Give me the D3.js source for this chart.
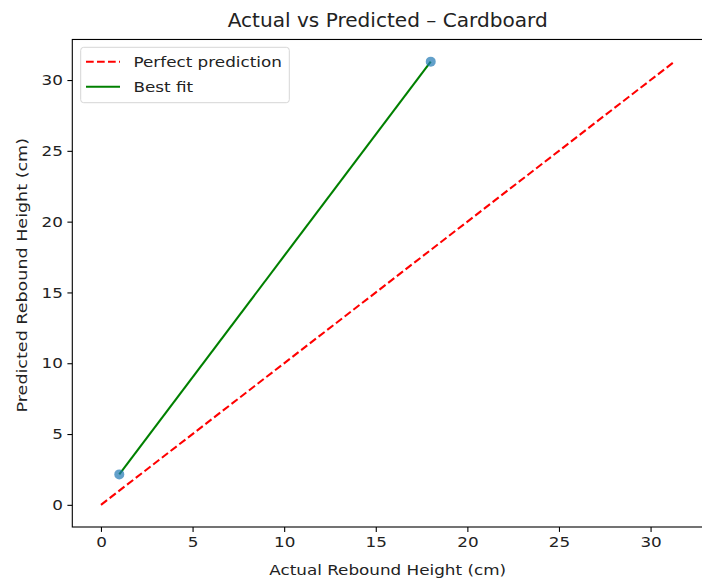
<!DOCTYPE html>
<html>
<head>
<meta charset="utf-8">
<script src="https://cdn.jsdelivr.net/npm/d3@7"></script>
<style>
  html, body { margin: 0; padding: 0; background: #fff; }
  svg { display: block; font-family: "DejaVu Sans", sans-serif; }
</style>
</head>
<body>
<svg id="chart" width="702" height="581"></svg>
<script>
const actual = [1, 18];
const predicted = [2.15, 31.3];
const xTicks = [0, 5, 10, 15, 20, 25, 30];
const yTicks = [0, 5, 10, 15, 20, 25, 30];
const titleText = "Actual vs Predicted \u2013 Cardboard";
const xLabelText = "Actual Rebound Height (cm)";
const yLabelText = "Predicted Rebound Height (cm)";
const legendLabels = ["Perfect prediction", "Best fit"];

(function () {
const svg = d3.select("#chart");
const maxVal = d3.max(actual.concat(predicted));
const pad = maxVal * 0.05;
const lo = -pad, hi = maxVal + pad;

const plotLeft = 72.3, plotBottom = 527;
const pxPerX = 18.32, pxPerY = 14.16;
const x = d3.scaleLinear().domain([lo, hi]).range([plotLeft, plotLeft + (hi - lo) * pxPerX]);
const y = d3.scaleLinear().domain([lo, hi]).range([plotBottom, plotBottom - (hi - lo) * pxPerY]);
const plotTop = y(hi), plotRight = x(hi);

const FS = 14.6, WIDEN = 1.15, TFS = 18.6, TWIDEN = 1.08;
function widen(sel, k) {
  sel.each(function () {
    const len = this.getComputedTextLength();
    d3.select(this).attr("textLength", len * k).attr("lengthAdjust", "spacingAndGlyphs");
  });
}

const xAxis = d3.axisBottom(x).tickValues(xTicks).tickSize(4.9).tickPadding(4.5).tickFormat(d3.format("d"));
const yAxis = d3.axisLeft(y).tickValues(yTicks).tickSize(4.9).tickPadding(4.5).tickFormat(d3.format("d"));

const gx = svg.append("g").attr("transform", `translate(0,${plotBottom})`).call(xAxis);
const gy = svg.append("g").attr("transform", `translate(${plotLeft},0)`).call(yAxis);
[gx, gy].forEach(g => {
  g.select(".domain").remove();
  g.selectAll("line").attr("stroke", "#000").attr("stroke-width", 1.1);
  g.selectAll("text").attr("font-size", FS).attr("fill", "#222").attr("font-family", "DejaVu Sans");
  widen(g.selectAll("text"), WIDEN);
});

svg.append("line")
  .attr("x1", x(0)).attr("y1", y(0))
  .attr("x2", x(maxVal)).attr("y2", y(maxVal))
  .attr("stroke", "red").attr("stroke-width", 2.08)
  .attr("stroke-dasharray", "7.7,3.3");

const mx = d3.mean(actual), my = d3.mean(predicted);
const slope = d3.sum(actual.map((v, i) => (v - mx) * (predicted[i] - my))) / d3.sum(actual.map(v => (v - mx) ** 2));
const intercept = my - slope * mx;
const x0 = d3.min(actual), x1 = d3.max(actual);
svg.append("line")
  .attr("x1", x(x0)).attr("y1", y(intercept + slope * x0))
  .attr("x2", x(x1)).attr("y2", y(intercept + slope * x1))
  .attr("stroke", "green").attr("stroke-width", 2.08);

svg.selectAll("circle.pt").data(actual).enter().append("circle")
  .attr("class", "pt")
  .attr("cx", d => x(d)).attr("cy", (d, i) => y(predicted[i]))
  .attr("r", 5).attr("fill", "#1f77b4").attr("fill-opacity", 0.7);

svg.append("rect").attr("x", plotLeft).attr("y", plotTop).attr("width", plotRight - plotLeft).attr("height", plotBottom - plotTop)
  .attr("fill", "none").attr("stroke", "#000").attr("stroke-width", 1.1);

const t = svg.append("text").attr("x", (plotLeft + plotRight) / 2).attr("y", 26.7).attr("text-anchor", "middle")
  .attr("font-size", TFS).attr("fill", "#222").text(titleText);
widen(t, TWIDEN);
const xl = svg.append("text").attr("x", (plotLeft + plotRight) / 2).attr("y", 575).attr("text-anchor", "middle")
  .attr("font-size", FS).attr("fill", "#222").text(xLabelText);
widen(xl, WIDEN);
const yl = svg.append("text").attr("transform", `translate(27,${(plotTop + plotBottom) / 2 - 8}) rotate(-90)`).attr("text-anchor", "middle")
  .attr("font-size", FS).attr("fill", "#222").text(yLabelText);
widen(yl, 1.2);

const lg = svg.append("g");
lg.append("rect").attr("x", 80.7).attr("y", 47.3).attr("width", 208.6).attr("height", 55.4).attr("rx", 3)
  .attr("fill", "#fff").attr("fill-opacity", 0.8).attr("stroke", "#d6d6d6").attr("stroke-width", 1);
const legendStyles = [{color: "red", dash: "7.7,3.3"}, {color: "green", dash: null}];
legendLabels.forEach((lab, i) => {
  const yy = 61.7 + i * 25;
  lg.append("line").attr("x1", 86).attr("x2", 120).attr("y1", yy).attr("y2", yy)
    .attr("stroke", legendStyles[i].color).attr("stroke-width", 2.08)
    .attr("stroke-dasharray", legendStyles[i].dash);
  const tx = lg.append("text").attr("x", 133.5).attr("y", yy + 5.3).attr("font-size", FS).attr("fill", "#222").text(lab);
  widen(tx, WIDEN);
});
})();
</script>
</body>
</html>
